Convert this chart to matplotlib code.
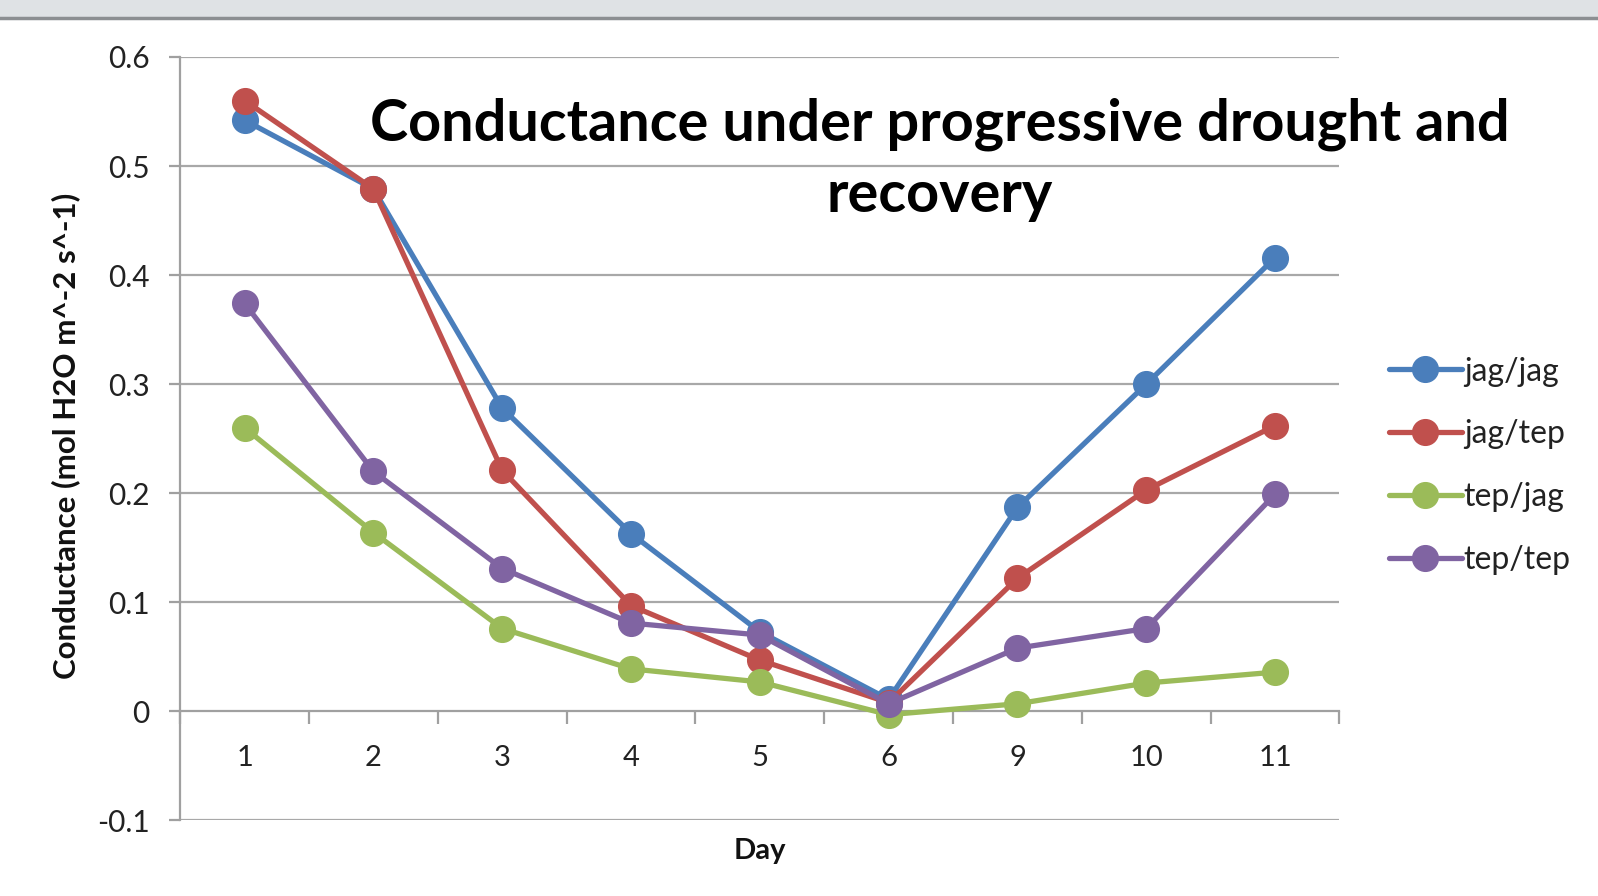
import matplotlib
matplotlib.use("Agg")
import matplotlib.pyplot as plt
from matplotlib.patches import Rectangle
from matplotlib.lines import Line2D

# ---- data ----
days = ["1", "2", "3", "4", "5", "6", "9", "10", "11"]
jag_jag = [0.542, 0.479, 0.278, 0.163, 0.073, 0.011, 0.187, 0.300, 0.416]
jag_tep = [0.560, 0.479, 0.221, 0.097, 0.047, 0.008, 0.122, 0.203, 0.262]
tep_jag = [0.260, 0.164, 0.076, 0.039, 0.027, -0.003, 0.007, 0.026, 0.036]
tep_tep = [0.374, 0.220, 0.131, 0.081, 0.070, 0.007, 0.058, 0.076, 0.199]

series = [
    ("jag/jag", jag_jag, "#4a7ebb"),
    ("jag/tep", jag_tep, "#c0504d"),
    ("tep/jag", tep_jag, "#9bbb59"),
    ("tep/tep", tep_tep, "#8064a2"),
]

yticks = [-0.1, 0, 0.1, 0.2, 0.3, 0.4, 0.5, 0.6]
ytick_labels = ["-0.1", "0", "0.1", "0.2", "0.3", "0.4", "0.5", "0.6"]

plt.rcParams["font.family"] = ["Lato", "DejaVu Sans"]

fig = plt.figure(figsize=(15.98, 8.96), dpi=100)
fig.patch.set_facecolor("white")

# window strip along the top edge
fig.patches.append(Rectangle((0, 1 - 18 / 896), 1, 18 / 896, transform=fig.transFigure,
                             facecolor="#dfe2e5", edgecolor="none", zorder=0))
fig.lines.append(Line2D([0, 1], [1 - 18 / 896, 1 - 18 / 896], transform=fig.transFigure,
                       color="#8c8f92", lw=2.5))

ax = fig.add_axes([0.1128, 0.0843, 0.8382 - 0.1128, 0.9364 - 0.0843])
x = list(range(len(days)))

for yv in yticks:
    if yv != 0:
        ax.axhline(yv, color="#a8a8a8", lw=1.6, zorder=1)

for name, vals, col in series:
    ax.plot(x, vals, color=col, lw=3.8, marker="o", markersize=18.5,
            label=name, zorder=3, solid_capstyle="round")

ax.set_xlim(-0.5, len(days) - 0.5)
ax.set_ylim(-0.1, 0.6)

for s in ["top", "right"]:
    ax.spines[s].set_visible(False)
ax.spines["bottom"].set_position(("data", 0))
ax.spines["bottom"].set_color("#a0a0a0")
ax.spines["bottom"].set_linewidth(1.6)
ax.spines["left"].set_color("#a0a0a0")
ax.spines["left"].set_linewidth(1.6)

# tick marks sit between categories, labels on the categories
ax.set_xticks([i - 0.5 for i in range(len(days) + 1)])
ax.set_xticklabels([])
ax.set_xticks(x, minor=True)
ax.set_xticklabels(days, minor=True)
ax.tick_params(axis="x", which="major", direction="out", length=9, width=1.6, color="#a0a0a0")
ax.tick_params(axis="x", which="minor", length=0, pad=24, labelsize=21, labelcolor="#222222")

ax.set_yticks(yticks)
ax.set_yticklabels(ytick_labels)
ax.tick_params(axis="y", direction="out", length=8, width=1.6, color="#a0a0a0",
               pad=14, labelsize=21.5, labelcolor="#222222")

fig.text(0.4755, 0.05, "Day", fontsize=21, fontweight="bold", ha="center", va="center",
         color="#111111")
fig.text(0.041, 0.513, "Conductance (mol H2O m^-2 s^-1)", fontsize=22.5, fontweight="bold",
         rotation=90, ha="center", va="center", color="#111111")

fig.text(0.588, 0.822, "Conductance under progressive drought and\nrecovery", fontsize=41.5,
         fontweight="bold", ha="center", va="center", linespacing=1.42, color="#000000")

ax.legend(loc="center left", bbox_to_anchor=(0.869, 0.480), bbox_transform=fig.transFigure,
          frameon=False, fontsize=23, handlelength=2.3, handletextpad=0.05,
          labelspacing=1.03, borderpad=0, borderaxespad=0, labelcolor="#222222")

fig.savefig("out.png", dpi=100)
